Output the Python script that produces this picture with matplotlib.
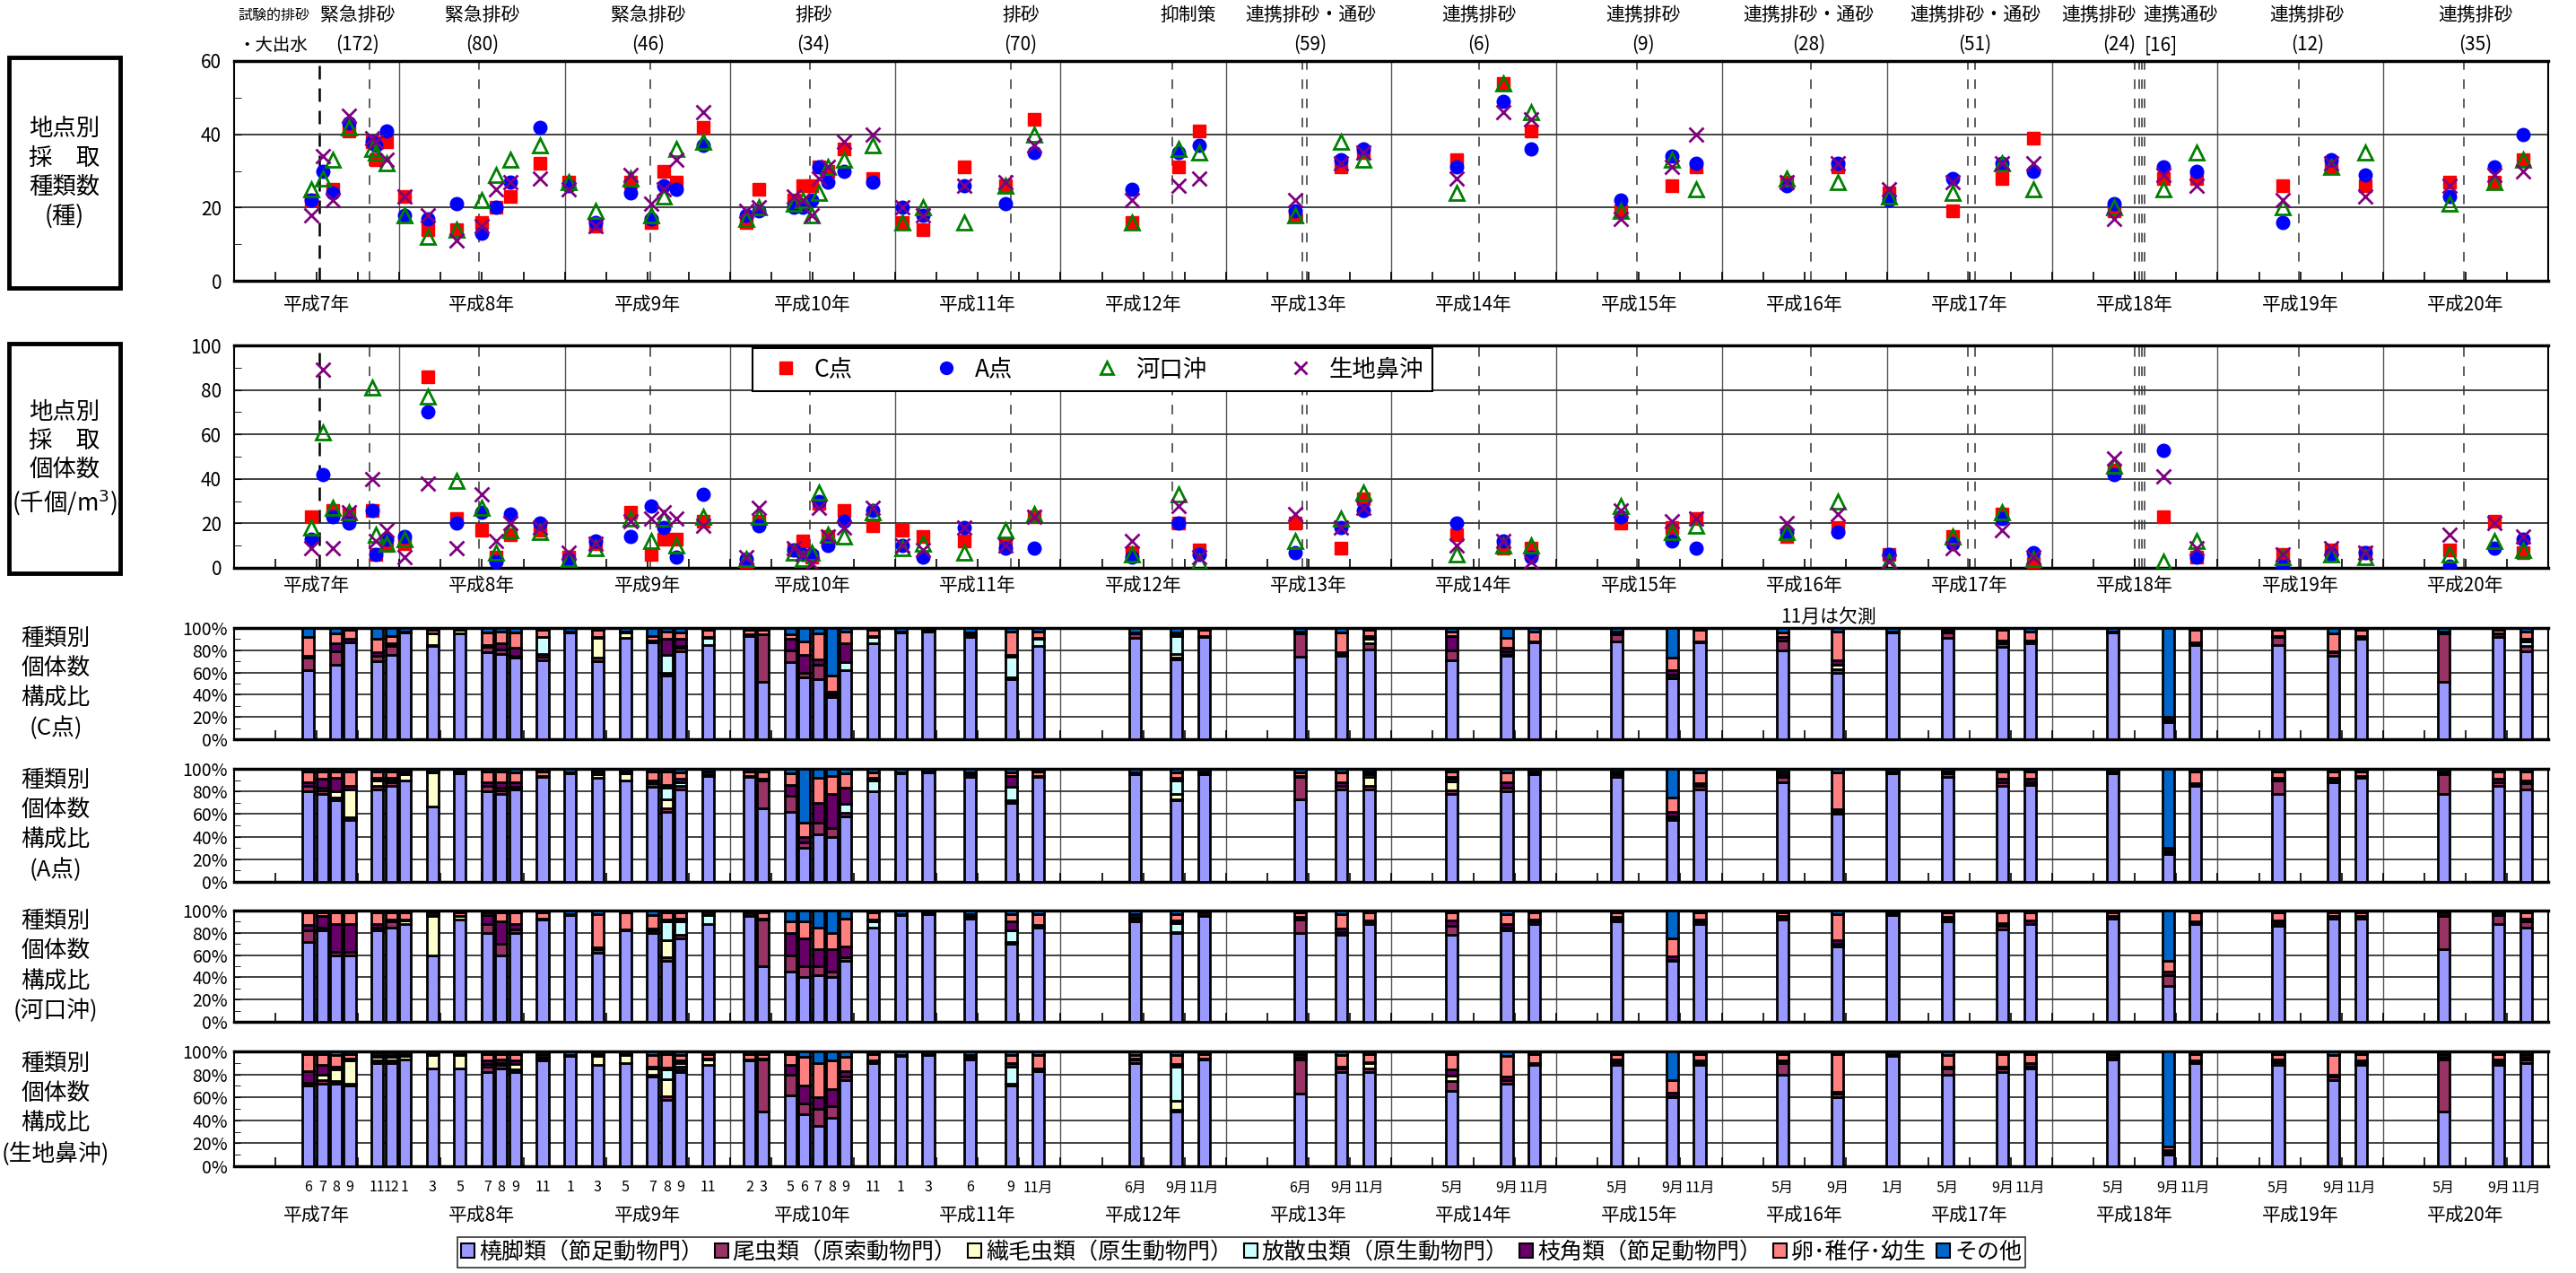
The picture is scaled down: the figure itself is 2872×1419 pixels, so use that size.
import numpy as np
import matplotlib
matplotlib.use('Agg')
import matplotlib.pyplot as plt
from matplotlib.patches import Rectangle, Patch
from matplotlib.lines import Line2D
from matplotlib.ticker import MultipleLocator, FuncFormatter

plt.rcParams['font.family'] = ['Noto Sans CJK JP', 'DejaVu Sans']

# ---------------- data ----------------
# sampling dates (scatter panels)
dates = ['1995-06-20', '1995-07-14', '1995-08-06', '1995-09-11', '1995-11-01', '1995-11-10', '1995-12-04',
         '1996-01-12', '1996-03-04', '1996-05-06', '1996-07-01', '1996-08-01', '1996-09-03', '1996-11-08',
         '1997-01-10', '1997-03-09', '1997-05-25', '1997-07-10', '1997-08-06', '1997-09-04', '1997-11-03',
         '1998-02-06', '1998-03-03', '1998-05-21', '1998-06-10', '1998-06-30', '1998-07-15', '1998-08-05',
         '1998-09-10', '1998-11-12',
         '1999-01-17', '1999-03-01', '1999-06-01', '1999-09-02', '1999-11-04',
         '2000-06-07', '2000-09-19', '2000-11-04', '2001-06-01', '2001-09-12', '2001-11-01',
         '2002-05-25', '2002-09-06', '2002-11-06', '2003-05-21', '2003-09-12', '2003-11-06',
         '2004-05-24', '2004-09-15', '2005-01-06', '2005-05-24', '2005-09-12', '2005-11-21',
         '2006-05-15', '2006-09-03', '2006-11-15', '2007-05-24', '2007-09-09', '2007-11-24',
         '2008-05-27', '2008-09-03', '2008-11-06']
nan = np.nan

# number of species (種)
spec_C = [22, nan, 25, 41, 38, 33, 38, 23, 14, 14, 16, 20, 23, 32, 27, 15, 27, 16, 30, 27, 42,
          16, 25, 22, 26, 26, 31, 30, 36, 28, 16, 14, 31, 26, 44, 16, 31, 41, 18, 31, 35,
          33, 54, 41, 19, 26, 31, 27, 31, 24, 19, 28, 39, 19, 28, 28, 26, 31, 26, 27, 27, 33]
spec_A = [22, 30, 24, 43, 38, 37, 41, 18, 17, 21, 13, 20, 27, 42, 26, 16, 24, 17, 26, 25, 37,
          18, 19, 20, 20, 22, 31, 27, 30, 27, 20, 18, 26, 21, 35, 25, 35, 37, 19, 33, 36,
          31, 49, 36, 22, 34, 32, 26, 32, 22, 28, 32, 30, 21, 31, 30, 16, 33, 29, 23, 31, 40]
spec_K = [25, 28, 33, 42, 36, 35, 32, 18, 12, 14, 22, 29, 33, 37, 27, 19, 28, 18, 23, 36, 38,
          17, 20, 21, 22, 18, 24, 31, 33, 37, 16, 20, 16, 26, 40, 16, 36, 35, 18, 38, 33,
          24, 54, 46, 19, 33, 25, 28, 27, 23, 24, 32, 25, 20, 25, 35, 20, 31, 35, 21, 27, 33]
spec_S = [18, 34, 22, 45, 39, 38, 33, 23, 18, 11, 15, 25, 27, 28, 25, 15, 29, 21, 25, 33, 46,
          19, 20, 23, 22, 18, 28, 31, 38, 40, 20, 18, 26, 27, 37, 22, 26, 28, 22, 32, 35,
          28, 46, 44, 17, 31, 40, 27, 32, 25, 27, 32, 32, 17, 29, 26, 22, 32, 23, 26, 29, 30]

# number of individuals (千個/m3)
ind_C = [23, nan, 26, 24, 26, 6, 10, 11, 86, 22, 17, 5, 15, 17, 5, 11, 25, 6, 13, 13, 21,
         1, 21, 8, 12, 5, 29, 14, 26, 19, 17, 14, 12, 11, 23, 7, 20, 8, 20, 9, 31,
         15, 9, 9, 20, 18, 22, 14, 18, 6, 14, 24, 2, 44, 23, 5, 6, 8, 7, 8, 21, 7]
ind_A = [13, 42, 23, 20, 26, 6, 13, 14, 70, 20, 25, 3, 24, 20, 4, 12, 14, 28, 18, 5, 33,
         4, 19, 8, 6, 6, 30, 10, 21, 26, 10, 5, 18, 9, 9, 5, 20, 6, 7, 18, 26,
         20, 12, 5, 23, 12, 9, 16, 16, 6, 11, 22, 7, 42, 53, 5, 1, 6, 7, 1, 9, 13]
ind_K = [18, 61, 27, 25, 81, 15, 11, 13, 77, 39, 27, 7, 17, 16, 4, 9, 22, 12, 22, 10, 23,
         4, 23, 7, 4, 7, 34, 15, 14, 25, 9, 11, 7, 17, 24, 6, 33, 3, 12, 22, 34,
         6, 10, 10, 28, 16, 19, 16, 30, 3, 14, 25, 4, 46, 3, 12, 5, 6, 5, 6, 12, 8]
ind_S = [9, 89, 9, 25, 40, 12, 17, 5, 38, 9, 33, 12, 20, 18, 7, 11, 21, 22, 25, 22, 19,
         5, 27, 9, 6, 2, 27, 14, 18, 27, 10, 8, 18, 10, 23, 12, 28, 5, 24, 18, 27,
         10, 12, 3, 26, 21, 22, 20, 24, 3, 9, 17, 5, 49, 41, 9, 6, 9, 7, 15, 20, 14]

# composition (%) by month, bottom -> top in category order
bar_months = ['1995-06', '1995-07', '1995-08', '1995-09', '1995-11', '1995-12',
              '1996-01', '1996-03', '1996-05', '1996-07', '1996-08', '1996-09', '1996-11',
              '1997-01', '1997-03', '1997-05', '1997-07', '1997-08', '1997-09', '1997-11',
              '1998-02', '1998-03', '1998-05', '1998-06', '1998-07', '1998-08', '1998-09', '1998-11',
              '1999-01', '1999-03', '1999-06', '1999-09', '1999-11',
              '2000-06', '2000-09', '2000-11', '2001-06', '2001-09', '2001-11',
              '2002-05', '2002-09', '2002-11', '2003-05', '2003-09', '2003-11',
              '2004-05', '2004-09', '2005-01', '2005-05', '2005-09', '2005-11',
              '2006-05', '2006-09', '2006-11', '2007-05', '2007-09', '2007-11',
              '2008-05', '2008-09', '2008-11']
comp_C = [[62, 11, 0, 0, 2, 17, 8], None, [67, 12, 0, 0, 7, 9, 5], [87, 0, 0, 0, 3, 8, 2],
          [70, 5, 0, 0, 3, 12, 10], [76, 8, 0, 1, 1, 7, 7],
          [96, 0, 0, 0, 0, 1, 3], [84, 1, 10, 0, 0, 3, 2], [95, 0, 3, 0, 0, 0, 2], [78, 5, 0, 0, 2, 11, 4],
          [77, 4, 0, 0, 5, 11, 3], [73, 2, 0, 0, 7, 14, 4], [71, 3, 3, 15, 0, 6, 2],
          [96, 0, 0, 0, 0, 1, 3], [70, 3, 18, 0, 1, 6, 2], [91, 0, 5, 0, 0, 1, 3], [87, 1, 0, 0, 1, 4, 7],
          [57, 3, 0, 16, 14, 7, 3], [79, 3, 0, 2, 6, 6, 4], [85, 0, 0, 6, 1, 6, 2],
          [93, 0, 0, 0, 1, 4, 2], [52, 42, 0, 0, 0, 4, 2], [69, 11, 0, 0, 10, 4, 6], [56, 4, 0, 0, 16, 12, 12],
          [54, 13, 0, 0, 5, 23, 5], [38, 2, 0, 0, 3, 14, 43], [62, 0, 0, 7, 17, 11, 3], [86, 0, 0, 6, 1, 5, 2],
          [96, 0, 0, 0, 0, 1, 3], [97, 0, 0, 0, 0, 1, 2], [92, 0, 0, 0, 2, 2, 4], [54, 2, 0, 18, 2, 21, 3],
          [84, 0, 0, 6, 1, 6, 3],
          [91, 4, 0, 0, 0, 1, 4], [72, 1, 4, 16, 1, 2, 4], [92, 0, 0, 0, 1, 5, 2],
          [74, 21, 0, 0, 1, 1, 3], [75, 1, 0, 0, 2, 18, 4], [81, 5, 4, 2, 1, 5, 2],
          [71, 9, 0, 0, 13, 4, 3], [75, 2, 0, 2, 3, 9, 9], [87, 0, 0, 0, 1, 9, 3],
          [88, 6, 0, 0, 2, 1, 3], [55, 1, 0, 2, 4, 11, 27], [87, 0, 0, 0, 1, 10, 2],
          [80, 9, 0, 0, 3, 4, 4], [60, 3, 4, 0, 4, 26, 3], [96, 0, 0, 0, 1, 0, 3],
          [91, 5, 0, 0, 1, 1, 2], [83, 3, 0, 0, 3, 9, 2], [86, 0, 0, 0, 3, 8, 3],
          [96, 0, 0, 0, 0, 1, 3], [15, 1, 0, 0, 2, 2, 80], [85, 0, 0, 0, 2, 11, 2],
          [85, 7, 0, 0, 1, 5, 2], [75, 3, 0, 0, 1, 16, 5], [90, 0, 0, 0, 3, 5, 2],
          [52, 43, 0, 0, 1, 1, 3], [92, 0, 0, 0, 3, 3, 2], [79, 5, 0, 4, 2, 7, 3]]
comp_A = [[80, 5, 0, 0, 3, 10, 2], [78, 3, 2, 0, 8, 7, 2], [72, 3, 5, 0, 12, 6, 2], [55, 2, 25, 0, 3, 13, 2],
          [82, 3, 5, 0, 2, 6, 2], [85, 3, 2, 0, 2, 6, 2],
          [90, 0, 5, 0, 1, 2, 2], [67, 0, 30, 0, 0, 1, 2], [96, 0, 1, 0, 0, 1, 2], [80, 5, 0, 0, 3, 10, 2],
          [78, 3, 2, 0, 5, 10, 2], [82, 2, 0, 0, 4, 9, 3], [93, 0, 0, 0, 1, 4, 2],
          [96, 0, 0, 0, 0, 1, 3], [92, 0, 3, 0, 0, 3, 2], [90, 0, 6, 0, 0, 2, 2], [84, 3, 0, 0, 3, 8, 2],
          [62, 3, 8, 10, 3, 12, 2], [82, 3, 0, 3, 3, 6, 3], [94, 0, 0, 0, 1, 3, 2],
          [93, 0, 0, 0, 1, 4, 2], [65, 25, 0, 0, 1, 7, 2], [62, 14, 0, 0, 10, 10, 4], [30, 5, 0, 0, 5, 12, 48],
          [42, 10, 0, 0, 18, 22, 8], [40, 8, 0, 0, 30, 16, 6], [58, 3, 0, 8, 14, 13, 4], [80, 0, 0, 10, 2, 5, 3],
          [96, 0, 0, 0, 0, 1, 3], [97, 0, 0, 0, 0, 1, 2], [93, 0, 0, 0, 2, 2, 3], [70, 2, 0, 12, 10, 3, 3],
          [93, 0, 0, 0, 1, 4, 2],
          [95, 0, 0, 0, 0, 2, 3], [72, 1, 5, 12, 2, 5, 3], [95, 0, 0, 0, 1, 2, 2],
          [73, 20, 0, 0, 1, 3, 3], [82, 3, 0, 0, 3, 9, 3], [82, 3, 8, 2, 1, 2, 2],
          [78, 3, 8, 2, 2, 5, 2], [80, 3, 0, 0, 5, 9, 3], [95, 0, 0, 0, 1, 2, 2],
          [93, 2, 0, 0, 1, 2, 2], [55, 1, 0, 2, 4, 13, 25], [82, 3, 0, 0, 2, 10, 3],
          [88, 5, 0, 0, 2, 3, 2], [60, 2, 0, 0, 2, 33, 3], [96, 0, 0, 0, 1, 1, 2],
          [93, 3, 0, 0, 1, 1, 2], [85, 3, 0, 0, 3, 7, 2], [86, 2, 0, 0, 3, 7, 2],
          [96, 0, 0, 0, 1, 1, 2], [25, 1, 0, 0, 2, 2, 70], [85, 0, 0, 0, 2, 11, 2],
          [78, 12, 0, 0, 2, 6, 2], [88, 2, 0, 0, 2, 6, 2], [92, 0, 0, 0, 2, 4, 2],
          [78, 17, 0, 0, 1, 2, 2], [85, 3, 0, 0, 3, 7, 2], [82, 5, 0, 0, 3, 8, 2]]
comp_K = [[72, 10, 0, 0, 5, 11, 2], [82, 3, 0, 0, 10, 3, 2], [60, 3, 0, 0, 25, 10, 2], [60, 3, 0, 0, 25, 10, 2],
          [82, 3, 0, 0, 3, 10, 2], [85, 5, 0, 0, 2, 6, 2],
          [88, 0, 3, 0, 1, 6, 2], [60, 0, 35, 0, 1, 2, 2], [92, 0, 3, 0, 0, 3, 2], [80, 8, 0, 0, 8, 2, 2],
          [60, 10, 0, 0, 20, 8, 2], [80, 3, 0, 0, 5, 10, 2], [92, 0, 0, 0, 1, 5, 2],
          [96, 0, 0, 0, 0, 1, 3], [62, 3, 0, 0, 2, 30, 3], [82, 0, 0, 0, 1, 15, 2], [80, 2, 0, 0, 2, 12, 4],
          [55, 3, 15, 17, 2, 6, 2], [75, 3, 0, 12, 3, 5, 2], [88, 0, 0, 8, 1, 2, 1],
          [95, 0, 0, 0, 1, 2, 2], [50, 42, 0, 0, 1, 5, 2], [45, 15, 0, 0, 20, 10, 10], [40, 10, 0, 0, 25, 15, 10],
          [42, 8, 0, 0, 15, 20, 15], [40, 5, 0, 0, 20, 15, 20], [55, 3, 0, 0, 10, 25, 7], [85, 0, 0, 5, 2, 6, 2],
          [96, 0, 0, 0, 0, 1, 3], [97, 0, 0, 0, 0, 1, 2], [93, 0, 0, 0, 2, 2, 3], [70, 2, 0, 10, 8, 7, 3],
          [85, 0, 0, 0, 2, 10, 3],
          [90, 3, 0, 0, 1, 3, 3], [80, 1, 0, 8, 2, 6, 3], [95, 0, 0, 0, 1, 2, 2],
          [80, 12, 0, 0, 2, 4, 2], [78, 3, 0, 0, 3, 13, 3], [88, 2, 0, 0, 1, 7, 2],
          [78, 8, 0, 0, 5, 7, 2], [82, 3, 0, 0, 3, 9, 3], [88, 2, 0, 0, 2, 6, 2],
          [90, 2, 0, 0, 2, 4, 2], [55, 1, 0, 0, 3, 16, 25], [88, 2, 0, 0, 2, 6, 2],
          [92, 2, 0, 0, 1, 3, 2], [68, 2, 0, 0, 3, 24, 3], [96, 0, 0, 0, 1, 1, 2],
          [90, 2, 0, 0, 2, 4, 2], [83, 3, 0, 0, 3, 9, 2], [88, 0, 0, 0, 3, 7, 2],
          [93, 0, 0, 0, 2, 3, 2], [32, 10, 0, 0, 3, 10, 45], [88, 0, 0, 0, 2, 8, 2],
          [86, 3, 0, 0, 2, 7, 2], [93, 0, 0, 0, 2, 3, 2], [93, 0, 0, 0, 2, 3, 2],
          [65, 30, 0, 0, 1, 2, 2], [88, 8, 0, 0, 1, 1, 2], [85, 5, 0, 0, 3, 5, 2]]
comp_S = [[70, 3, 0, 0, 10, 15, 2], [72, 3, 5, 0, 8, 10, 2], [72, 2, 10, 0, 3, 10, 3], [70, 2, 20, 0, 2, 4, 2],
          [90, 2, 3, 0, 2, 2, 1], [90, 2, 3, 0, 2, 2, 1],
          [93, 0, 3, 0, 1, 1, 2], [85, 0, 12, 0, 0, 1, 2], [85, 0, 12, 0, 0, 1, 2], [82, 5, 2, 0, 3, 6, 2],
          [85, 3, 2, 0, 3, 5, 2], [82, 2, 5, 0, 3, 6, 2], [92, 0, 2, 0, 1, 3, 2],
          [96, 0, 0, 0, 0, 1, 3], [88, 0, 8, 0, 0, 2, 2], [90, 0, 7, 0, 0, 1, 2], [78, 2, 5, 0, 2, 10, 3],
          [58, 3, 15, 8, 2, 12, 2], [82, 2, 3, 3, 2, 5, 3], [88, 0, 5, 0, 1, 4, 2],
          [92, 0, 0, 0, 1, 5, 2], [48, 45, 0, 0, 1, 4, 2], [62, 18, 0, 0, 8, 10, 2], [45, 10, 0, 0, 15, 25, 5],
          [35, 15, 0, 0, 10, 30, 10], [42, 10, 0, 0, 15, 25, 8], [75, 3, 0, 0, 5, 12, 5], [90, 0, 0, 0, 2, 6, 2],
          [96, 0, 0, 0, 0, 1, 3], [97, 0, 0, 0, 0, 1, 2], [93, 0, 0, 0, 2, 2, 3], [70, 2, 0, 15, 3, 7, 3],
          [83, 0, 0, 0, 2, 12, 3],
          [90, 3, 0, 0, 1, 3, 3], [48, 1, 8, 30, 2, 8, 3], [93, 0, 0, 0, 1, 4, 2],
          [63, 30, 0, 0, 2, 3, 2], [82, 3, 0, 0, 2, 10, 3], [82, 3, 5, 0, 1, 7, 2],
          [66, 8, 5, 0, 5, 14, 2], [72, 3, 0, 0, 3, 18, 4], [88, 0, 0, 0, 2, 8, 2],
          [88, 3, 0, 0, 2, 5, 2], [60, 1, 0, 0, 3, 11, 25], [88, 2, 0, 0, 2, 6, 2],
          [80, 10, 0, 0, 2, 6, 2], [60, 3, 0, 0, 2, 33, 2], [96, 0, 0, 0, 1, 1, 2],
          [80, 5, 0, 0, 2, 10, 3], [82, 3, 0, 0, 2, 11, 2], [85, 2, 0, 0, 3, 8, 2],
          [93, 0, 0, 0, 2, 3, 2], [10, 2, 0, 0, 2, 3, 83], [90, 0, 0, 0, 2, 6, 2],
          [88, 3, 0, 0, 2, 5, 2], [75, 3, 0, 0, 2, 17, 3], [88, 2, 0, 0, 2, 6, 2],
          [48, 45, 0, 0, 2, 3, 2], [88, 3, 0, 0, 2, 5, 2], [90, 3, 0, 0, 2, 3, 2]]

categories = ['橈脚類（節足動物門）', '尾虫類（原索動物門）', '繊毛虫類（原生動物門）',
              '放散虫類（原生動物門）', '枝角類（節足動物門）', '卵･稚仔･幼生', 'その他']
cat_colors = ['#9999FF', '#993366', '#FFFFCC', '#CCFFFF', '#660066', '#FF8080', '#0066CC']

stations = ['C点', 'A点', '河口沖', '生地鼻沖']
years = ['平成%d年' % n for n in range(7, 21)]

# flushing events (dashed lines); first one = 試験的排砂・大出水
flush_dates = ['1995-07-07', '1995-10-26', '1996-06-25', '1997-07-07', '1998-06-25', '1999-09-13',
               '2000-09-04', '2001-06-19', '2001-06-28', '2002-07-13', '2003-06-28', '2004-07-16',
               '2005-06-28', '2005-07-13', '2006-07-01', '2006-07-10', '2006-07-16', '2006-07-22',
               '2007-06-28', '2008-06-28']


def month_of(s):
    p = [int(v) for v in s.split('-')]
    x = (p[0] - 1995) * 12 + p[1] - 1
    return x + ((p[2] - 1) / 31 if len(p) == 3 else 0.4)


# ---------------- layout ----------------
W, H = 2872, 1419
L, R = 261, 2841
fig = plt.figure(figsize=(W / 100, H / 100), dpi=100)


def px_axes(top, bottom):
    return fig.add_axes([L / W, 1 - bottom / H, (R - L) / W, (bottom - top) / H])


def mx(m):  # month -> figure pixel x
    return L + m * (R - L) / 168


def ftext(x, y, s, **kw):
    fig.text(x / W, 1 - y / H, s, **kw)


def setup_x(ax):
    ax.set_xlim(0, 168)
    ax.set_xticks(np.arange(0, 169, 3))
    ax.tick_params(axis='x', direction='in', length=7, width=1.2, labelbottom=False)
    for k in range(1, 14):
        ax.axvline(12 * k, color='#555555', lw=1.0, zorder=0.5)
    for sp in ax.spines.values():
        sp.set_linewidth(1.5)
    ax.spines['top'].set_linewidth(2.5)
    ax.spines['bottom'].set_linewidth(2.5)


ax1 = px_axes(68, 313)
ax2 = px_axes(385, 633)
bar_axes = [px_axes(700, 824), px_axes(857, 983), px_axes(1015, 1139), px_axes(1172, 1300)]

xs = [month_of(d) for d in dates]
xf = [month_of(d) for d in flush_dates]

for ax, data, ymax in [(ax1, (spec_C, spec_A, spec_K, spec_S), 60),
                       (ax2, (ind_C, ind_A, ind_K, ind_S), 100)]:
    setup_x(ax)
    ax.set_ylim(0, ymax)
    ax.yaxis.set_major_locator(MultipleLocator(20))
    ax.yaxis.set_minor_locator(MultipleLocator(10))
    ax.tick_params(axis='y', which='both', direction='in', labelsize=15, length=6, pad=10)
    ax.grid(axis='y', which='major', color='#333333', lw=1.3, zorder=0.6)
    for i, x in enumerate(xf):
        if i == 0:
            ax.axvline(x, color='black', lw=1.8, ls=(0, (6, 4)), zorder=1)
        else:
            ax.axvline(x, color='#333333', lw=1.1, ls=(0, (7, 7)), zorder=1)
    c, a, k, s = data
    ax.plot(xs, c, 's', color='red', ms=10, ls='none', zorder=3)
    ax.plot(xs, a, 'o', color='blue', ms=10.5, ls='none', zorder=4)
    ax.plot(xs, k, '^', mfc='none', mec='green', mew=2, ms=11, ls='none', zorder=5)
    ax.plot(xs, s, 'x', color='purple', mew=2, ms=11, ls='none', zorder=6)

handles = [Line2D([], [], marker='s', color='red', ls='none', ms=10),
           Line2D([], [], marker='o', color='blue', ls='none', ms=10),
           Line2D([], [], marker='^', mfc='none', mec='green', mew=2, ls='none', ms=10),
           Line2D([], [], marker='x', color='purple', mew=2, ls='none', ms=10)]
leg = ax2.legend(handles, stations, ncol=4, loc='lower left', mode='expand',
                 bbox_to_anchor=(0.224, 0.794, 0.294, 0.254), borderaxespad=0,
                 fontsize=19, frameon=True, fancybox=False, edgecolor='black', framealpha=1,
                 handletextpad=0.2, borderpad=0.4)
leg.get_frame().set_linewidth(1.5)
leg.set_zorder(10)

xb = np.array([month_of(m) for m in bar_months])
for ax, comp in zip(bar_axes, [comp_C, comp_A, comp_K, comp_S]):
    setup_x(ax)
    ax.set_ylim(0, 100)
    ax.yaxis.set_major_locator(MultipleLocator(20))
    ax.yaxis.set_minor_locator(MultipleLocator(10))
    ax.yaxis.set_major_formatter(FuncFormatter(lambda v, p: '%d%%' % v))
    ax.tick_params(axis='y', which='both', direction='in', labelsize=14, length=5, pad=5)
    ax.grid(axis='y', which='major', color='#333333', lw=1.3, zorder=0.6)
    ok = np.array([r is not None for r in comp])
    arr = np.array([r for r in comp if r is not None], dtype=float)
    arr = arr / arr.sum(axis=1, keepdims=True) * 100
    bottom = np.zeros(len(arr))
    for j in range(7):
        v = arr[:, j]
        m = v > 0
        ax.bar(xb[ok][m], v[m], bottom=bottom[m], width=0.85, color=cat_colors[j],
               edgecolor='black', lw=2, zorder=3)
        bottom += v

# ---------------- texts ----------------
for i, y in enumerate(years):
    for yy in (340, 653, 1355):
        ftext(mx(12 * i + 6), yy, y, fontsize=15, ha='center', va='center')

# month labels below composition panels
seen = []
for m in bar_months:
    if m not in seen:
        seen.append(m)
for i, m in enumerate(seen):
    yr, mo = int(m[:4]), int(m[5:])
    nxt = seen[i + 1] if i + 1 < len(seen) else None
    if yr >= 2000 or (yr == 1999 and (nxt is None or nxt[:4] != '1999')):
        lab = '%d月' % mo
    else:
        lab = '%d' % mo
    ftext(mx(month_of(m)), 1324, lab, fontsize=11.5, ha='center', va='center')

ftext(1985, 688, '11月は欠測', fontsize=15, ha='left', va='center')

# event annotations above the top panel
ftext(265, 17, '試験的排砂', fontsize=11.5, ha='left', va='center')
ftext(265, 50, '・大出水', fontsize=14, ha='left', va='center')
events = [(8.95, '緊急排砂', '(172)'), (18.03, '緊急排砂', '(80)'), (30.08, '緊急排砂', '(46)'),
          (42.06, '排砂', '(34)'), (57.1, '排砂', '(70)'), (69.27, '抑制策', ''),
          (78.15, '連携排砂・通砂', '(59)'), (90.4, '連携排砂', '(6)'), (102.3, '連携排砂', '(9)'),
          (114.3, '連携排砂・通砂', '(28)'), (126.4, '連携排砂・通砂', '(51)'),
          (135.4, '連携排砂', ''), (141.3, '連携通砂', ''), (150.5, '連携排砂', '(12)'),
          (162.7, '連携排砂', '(35)')]
for m, t1, t2 in events:
    ftext(mx(m), 17, t1, fontsize=15, ha='center', va='center')
    if t2:
        ftext(mx(m), 50, t2, fontsize=15, ha='center', va='center')
ftext(2363, 50, '(24)', fontsize=15, ha='center', va='center')
ftext(2409, 50, '[16]', fontsize=15, ha='center', va='center')

# left-hand panel titles
for top, bot, txt in [(64, 321, '地点別\n採　取\n種類数\n(種)'),
                      (383, 639, '地点別\n採　取\n個体数\n(千個/m$^3$)')]:
    fig.patches.append(Rectangle((10 / W, 1 - bot / H), 124 / W, (bot - top) / H,
                                 transform=fig.transFigure, fill=False, lw=3.5, ec='black'))
    ftext(72, (top + bot) / 2, txt, fontsize=19, ha='center', va='center',
          linespacing=1.25, multialignment='center')
for ax, st in zip(bar_axes, stations):
    pos = ax.get_position()
    yc = (1 - (pos.y0 + pos.height / 2)) * H
    ftext(62, yc, '種類別\n個体数\n構成比\n(%s)' % st, fontsize=18.5, ha='center', va='center',
          linespacing=1.35, multialignment='center')

# bottom legend
patches = [Patch(facecolor=c, edgecolor='black', lw=1.5, label=l) for c, l in zip(cat_colors, categories)]
bleg = fig.legend(handles=patches, loc='center', bbox_to_anchor=(1384 / W, 1 - 1396 / H), ncol=7,
                  fontsize=18, frameon=True, fancybox=False, edgecolor='black',
                  handlelength=0.6, handleheight=0.6, handletextpad=0.2, columnspacing=0.5,
                  borderpad=0.15)
bleg.get_frame().set_linewidth(1.2)

fig.savefig('out.png', dpi=100, facecolor='white')
